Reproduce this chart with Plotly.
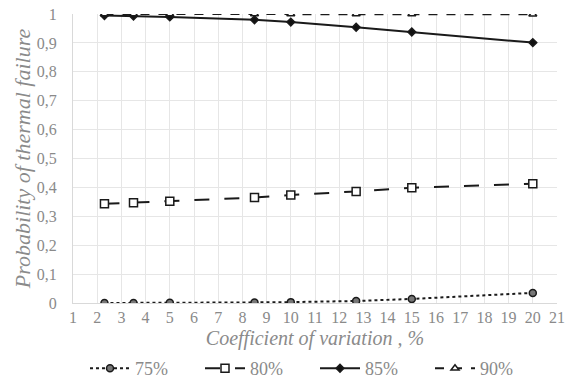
import plotly.graph_objects as go

x_cv = [2.3, 3.5, 5, 8.5, 10, 12.7, 15, 20]
p75 = [0.0, 0.0, 0.001, 0.002, 0.003, 0.007, 0.014, 0.035]
p80 = [0.343, 0.347, 0.352, 0.365, 0.374, 0.386, 0.399, 0.413]
p85 = [0.995, 0.993, 0.99, 0.98, 0.972, 0.954, 0.938, 0.901]
p90 = [1.0, 1.0, 1.0, 1.0, 1.0, 1.0, 1.0, 0.999]

names = ["75%", "80%", "85%", "90%"]
series = [p75, p80, p85, p90]
dashes = ["dot", "longdash", "solid", "dash"]
symbols = ["circle", "square", "diamond", "triangle-up"]
fills = ["#777777", "white", "#111111", "white"]
sizes = [7, 8, 6, 7]

fig = go.Figure()
for nm, ys, ds, sy, fc, sz in zip(names, series, dashes, symbols, fills, sizes):
    fig.add_trace(go.Scatter(
        x=x_cv, y=ys, name=nm, mode="lines+markers",
        line=dict(color="#1a1a1a", width=2, dash=ds),
        marker=dict(symbol=sy, size=sz, color=fc, line=dict(color="#1a1a1a", width=1.5)),
    ))

font_serif = "Liberation Serif"
fig.update_layout(
    width=566, height=379,
    margin=dict(l=73, r=9, t=14, b=76, autoexpand=False),
    paper_bgcolor="white", plot_bgcolor="white",
    separators=", ",
    font=dict(family=font_serif, color="#8a8a8a", size=15),
    legend=dict(orientation="h", x=0.5, xanchor="center",
                yref="container", y=1 - 350 / 379, yanchor="top",
                font=dict(family=font_serif, size=18, color="#8a8a8a"),
                entrywidth=60, entrywidthmode="pixels",
                itemwidth=40, tracegroupgap=0),
    showlegend=True,
)
fig.update_xaxes(
    range=[1, 21], dtick=1, tick0=1,
    showgrid=True, gridcolor="#e6e6e6", gridwidth=1,
    showline=True, linecolor="#d9d9d9", zeroline=False,
    ticks="", tickfont=dict(family=font_serif, size=16, color="#8a8a8a"),
    title=dict(text="<i>Coefficient of variation , %</i>",
               font=dict(family=font_serif, size=20, color="#8a8a8a"), standoff=9),
)
fig.update_yaxes(
    range=[0, 1], dtick=0.1,
    showgrid=True, gridcolor="#e6e6e6", gridwidth=1,
    showline=True, linecolor="#d9d9d9", zeroline=False,
    ticks="", tickfont=dict(family=font_serif, size=16, color="#8a8a8a"), ticksuffix="   ",
    title=dict(text="<i>Probability of thermal failure</i>",
               font=dict(family=font_serif, size=22, color="#8a8a8a"), standoff=0),
)

fig.write_html("out.html")
